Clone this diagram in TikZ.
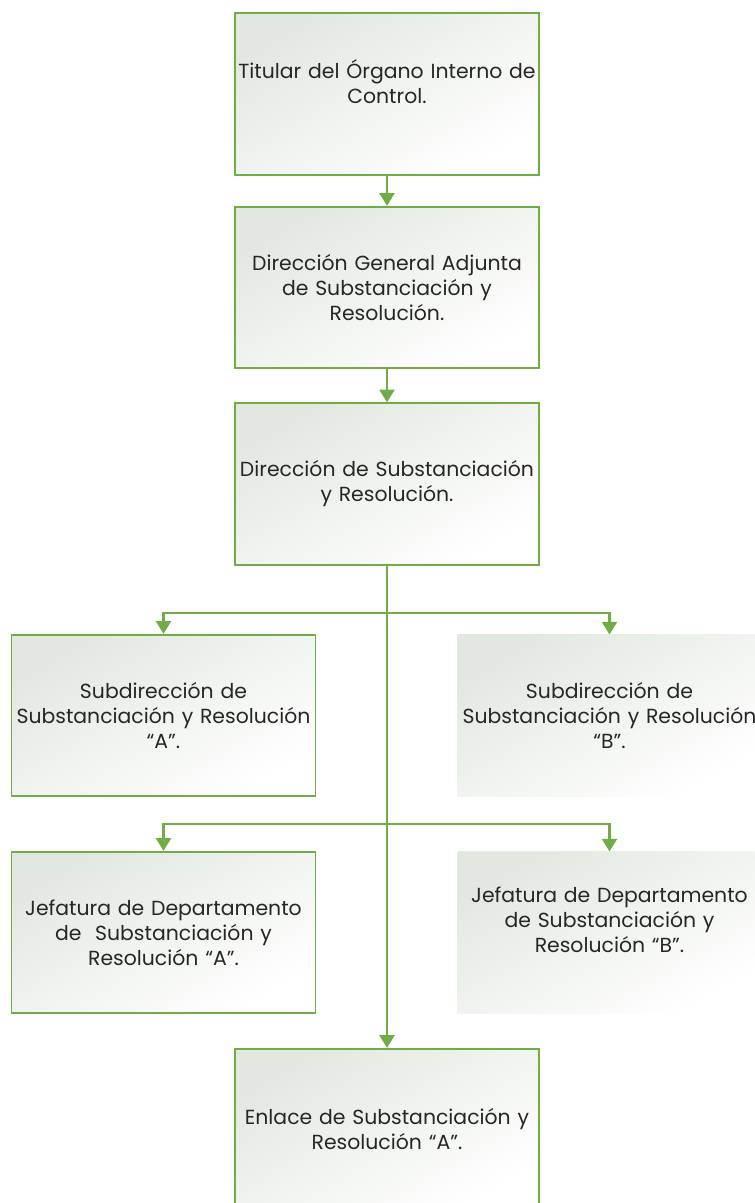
\documentclass[tikz,border=0pt]{standalone}
\usepackage{fontspec}
\setmainfont{Poppins}
\usetikzlibrary{arrows.meta}
\definecolor{orggreen}{RGB}{112,173,71}
\definecolor{orgshade}{RGB}{226,232,224}
\begin{document}
\begin{tikzpicture}[x=0.75pt,y=-0.75pt,
    unit/.style={top color=orgshade, bottom color=white, shading angle=30,
      minimum width=228pt, minimum height=121pt, inner sep=0pt,
      text width=226pt, align=center, text=black!85,
      font=\fontsize{15.3}{18.75}\selectfont},
    boxed/.style={unit, draw=orggreen, line width=1.4pt},
    link/.style={draw=orggreen, line width=2.2pt,
      -{Triangle[width=11pt,length=9.5pt]}}]
    \useasboundingbox (0,0) rectangle (755,1203);

    % Define units of the chart
    \node[boxed] (titular) at (387,94) {Titular del Órgano Interno de\\Control.\\ \mbox{}};
    \node[boxed] (adjunta) at (387,287.5) {Dirección General Adjunta\\de Substanciación y\\Resolución.};
    \node[boxed] (direccion) at (387,484) {Dirección de Substanciación\\y Resolución.};
    \node[boxed] (subA) at (163.5,715.5) {Subdirección de\\Substanciación y Resolución\\“A”.};
    \node[unit] (subB) at (609.5,715.5) {Subdirección de\\Substanciación y Resolución\\“B”.};
    \node[boxed] (jefA) at (163.5,932.5) {Jefatura de Departamento\\de~ Substanciación y\\Resolución “A”.};
    \node[unit] (jefB) at (609.5,932.5) {Jefatura de Departamento\\de Substanciación y\\Resolución “B”.\\ \mbox{}};
    \node[boxed] (enlace) at (387,1129.5) {Enlace de Substanciación y\\Resolución “A”.};

    % Branch points on the trunk
    \coordinate (fork1) at (387,613);
    \coordinate (fork2) at (387,824);

    % Draw connectors
    \draw[link] (titular) -- (adjunta);
    \draw[link] (adjunta) -- (direccion);
    \draw[link] (direccion) -- (enlace);
    \draw[link] (fork1) -| (subA.north);
    \draw[link] (fork1) -| (subB.north);
    \draw[link] (fork2) -| (jefA.north);
    \draw[link] (fork2) -| (jefB.north);
\end{tikzpicture}
\end{document}
